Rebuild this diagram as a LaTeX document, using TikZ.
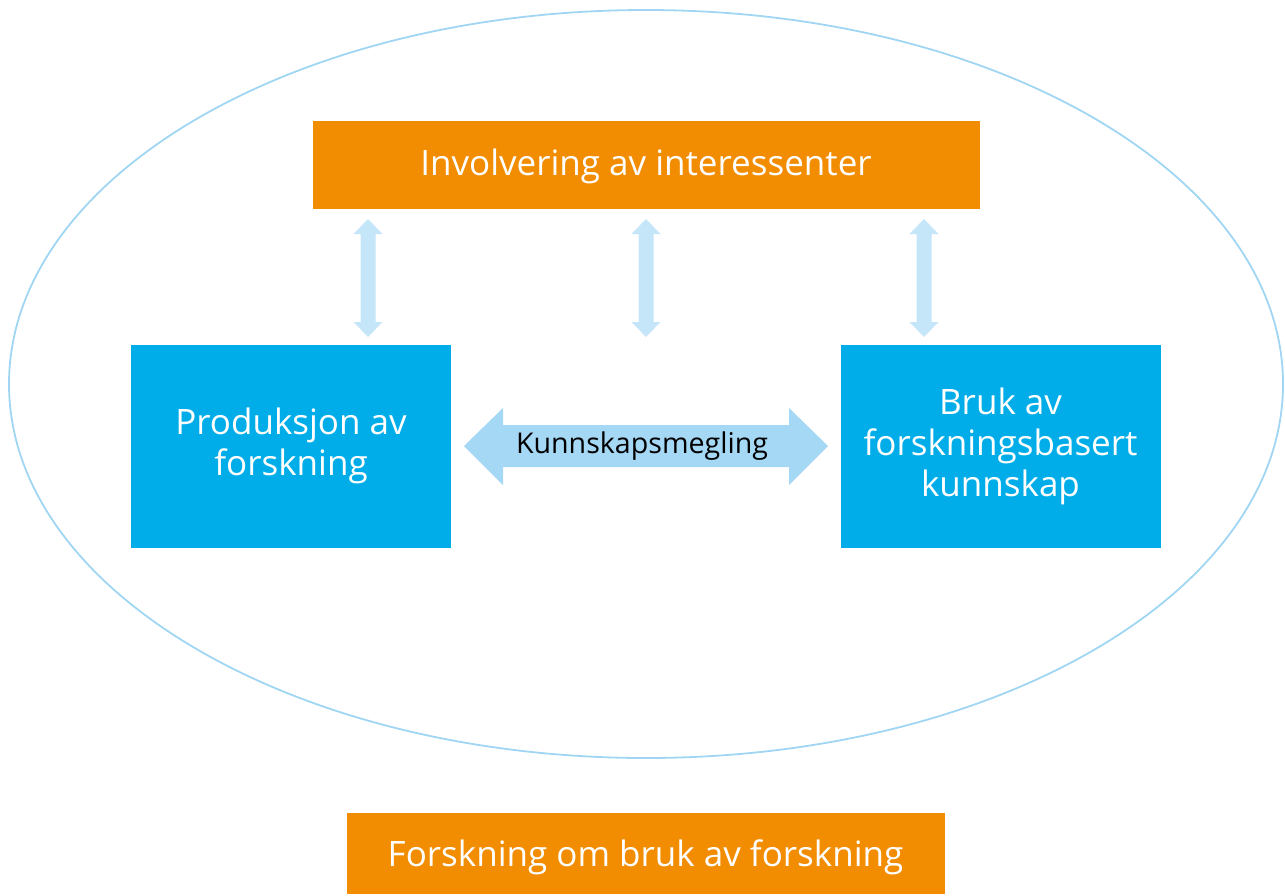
\documentclass[tikz,border=0pt]{standalone}
\usepackage{fontspec}
\setmainfont{Open Sans}
\definecolor{orng}{RGB}{242,140,0}
\definecolor{bbox}{RGB}{0,173,233}
\definecolor{ell}{RGB}{160,214,243}
\definecolor{bigarr}{RGB}{165,216,245}
\definecolor{smarr}{RGB}{197,229,249}
\begin{document}
\begin{tikzpicture}[x=1pt,y=-1pt,
  obox/.style={fill=orng,text=white,inner sep=0pt,font=\fontsize{35}{41}\selectfont},
  bluebox/.style={fill=bbox,text=white,inner sep=0pt,align=center,minimum width=320,minimum height=203,font=\fontsize{35}{41}\selectfont},
  varr/.style={fill=smarr,draw=none},
  harr/.style={fill=bigarr,draw=none}]
\useasboundingbox (0,0) rectangle (1285,895);
% ellipse
\draw[ell,line width=1.8pt] (646,384) ellipse [x radius=637, y radius=374];
% boxes
\node[obox,minimum width=667,minimum height=88,text height=27pt,text depth=5pt] (top) at (646,164.5) {Involvering av interessenter};
\node[bluebox,text depth=9pt] (prod) at (291,446) {Produksjon av\\forskning};
\node[bluebox] (bruk) at (1000.5,446) {Bruk av\\forskningsbasert\\kunnskap};
\node[obox,minimum width=598,minimum height=81,text height=27pt,text depth=1pt] (bottom) at (645.5,853.5) {Forskning om bruk av forskning};
% vertical double arrows
\foreach \x in {368,646,924}{
  \fill[varr] (\x,219) -- (\x+14.5,234) -- (\x+7.5,234) -- (\x+7.5,322) -- (\x+14.5,322) -- (\x,337)
     -- (\x-14.5,322) -- (\x-7.5,322) -- (\x-7.5,234) -- (\x-14.5,234) -- cycle;
}
% horizontal double arrow
\fill[harr] (464,446) -- (503,408) -- (503,425) -- (789,425) -- (789,408) -- (828,446)
   -- (789,485) -- (789,467) -- (503,467) -- (503,485) -- cycle;
\node[inner sep=0pt,font=\fontsize{28.6}{32}\selectfont] (km) at (642,446) {Kunnskapsmegling};
\end{tikzpicture}
\end{document}
